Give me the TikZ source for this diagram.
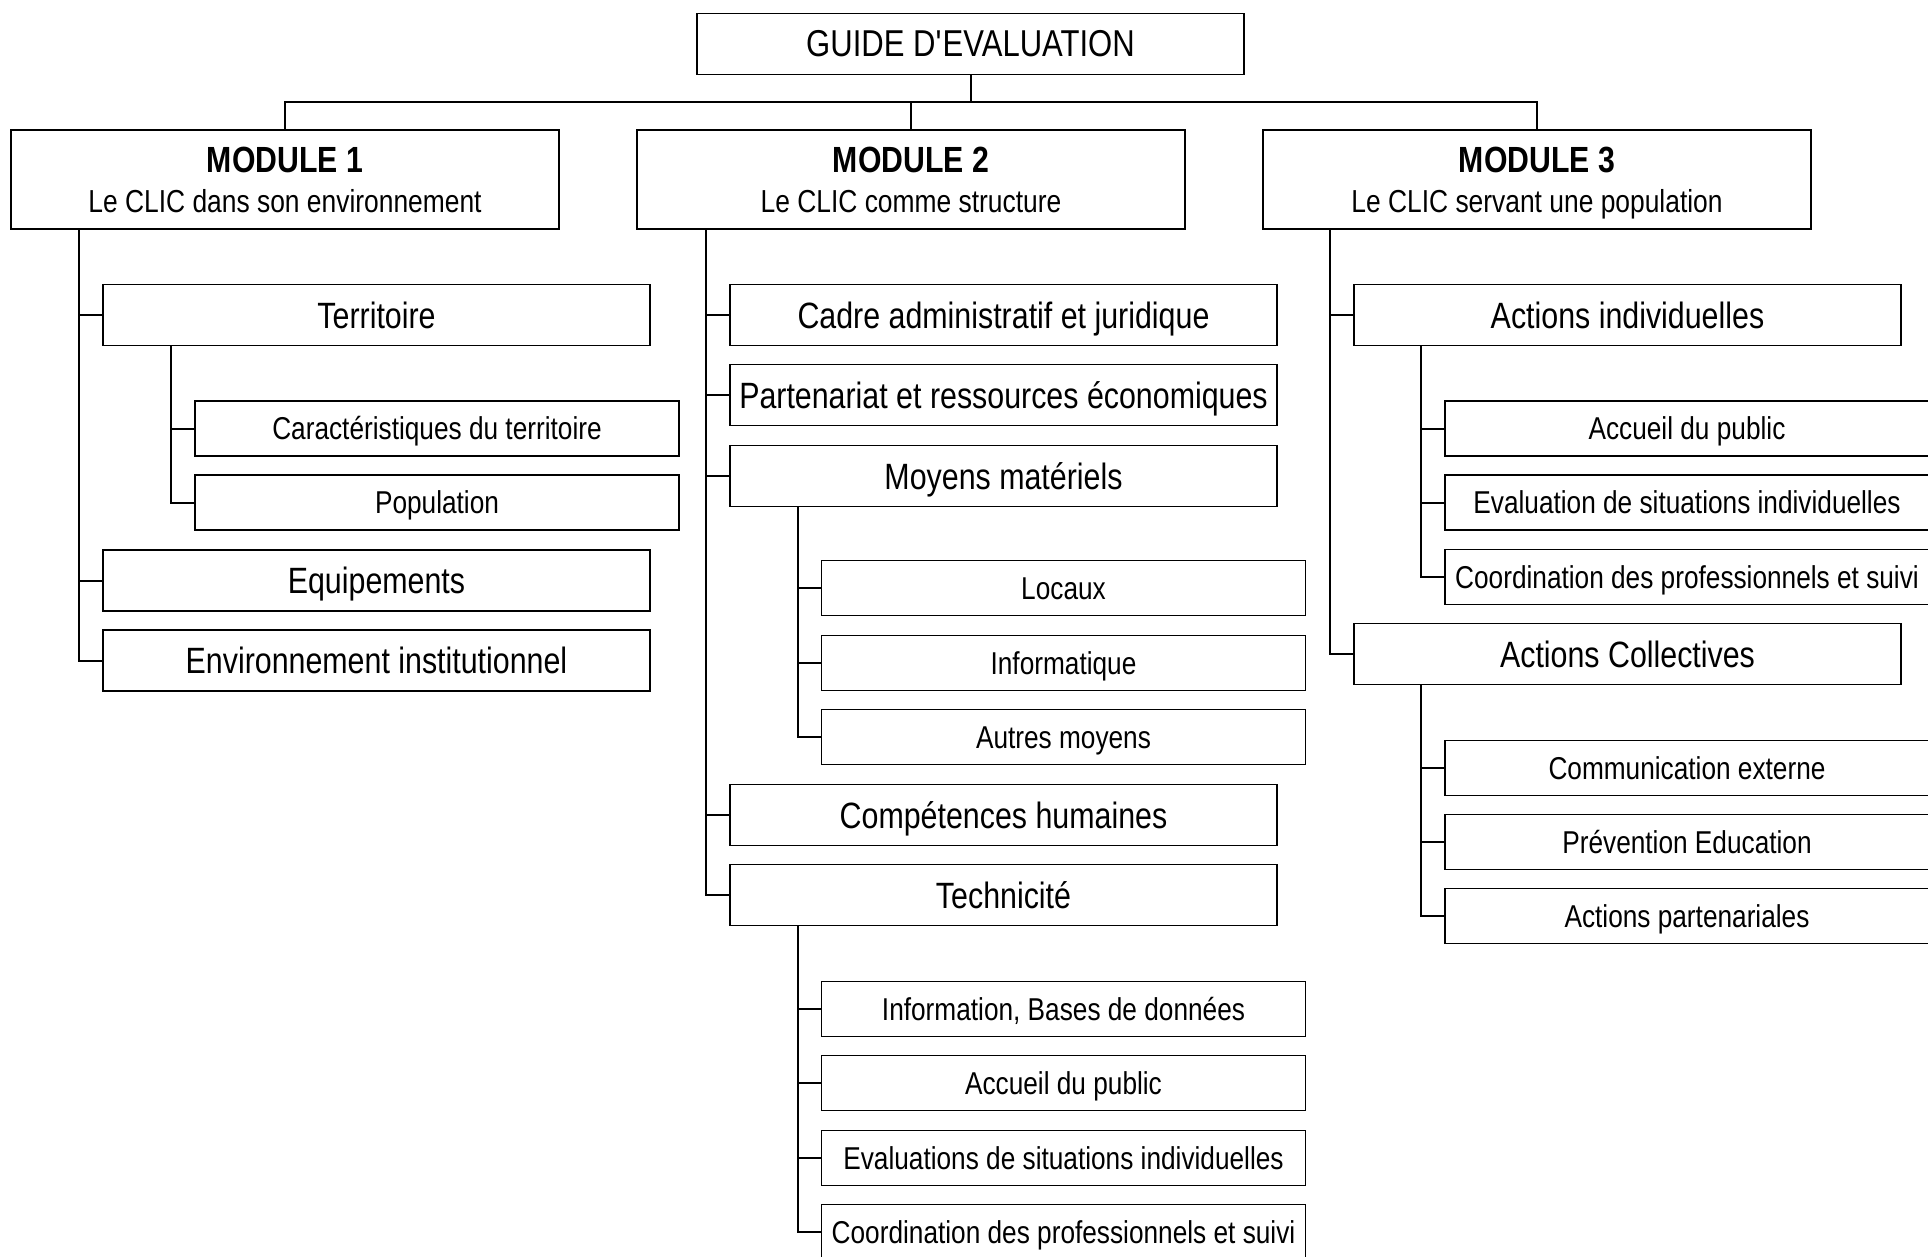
\documentclass[tikz,border=0pt]{standalone}
\usepackage{fontspec}
\setmainfont[FakeStretch=0.83]{Liberation Sans}
\usepackage{tikz}

\newcommand{\modtext}[2]{\rule{0pt}{13pt}\smash{\textbf{\fontsize{18.2}{19.7}\selectfont #1}}\\\rule{0pt}{13.8pt}\smash{#2}}

\begin{document}
\begin{tikzpicture}[x=0.5pt, y=-0.5pt,
  box/.style={draw, line width=0.7pt, inner sep=0pt, align=center},
  title/.style={box, minimum width=273.5pt, minimum height=30.5pt, font=\fontsize{18.7}{21}\selectfont},
  module/.style={box, minimum width=274pt, minimum height=49.5pt, font=\fontsize{15.9}{19.7}\selectfont},
  lvone/.style={box, minimum width=273.5pt, minimum height=30.5pt, text height=16pt, text depth=2.9pt, font=\fontsize{18.3}{20}\selectfont},
  lvtwo/.style={box, minimum width=242pt, minimum height=27.5pt, text height=14pt, text depth=2.7pt, font=\fontsize{15.8}{18}\selectfont},
  link/.style={line width=1pt}]
  \useasboundingbox (0,0) rectangle (1928,1257);

  % Top of the tree
  \node[title] (guide) at (970.5,44) {GUIDE D\textquotesingle EVALUATION};
  \node[module] (m1) at (285,179.5) {\modtext{MODULE 1}{Le CLIC dans son environnement}};
  \node[module] (m2) at (911,179.5) {\modtext{MODULE 2}{Le CLIC comme structure}};
  \node[module] (m3) at (1537,179.5) {\modtext{MODULE 3}{Le CLIC servant une population}};
  \coordinate (bus) at (970.5,102);
  \draw[link] (guide.south) -- (bus);
  \draw[link] (m1.north) |- (bus) -| (m3.north);
  \draw[link] (m2.north) -- (m2.north |- bus);

  % Module 1
  \coordinate (t1) at (79,0);
  \coordinate (s1) at (171,0);
  \node[lvone] (terr) at (376.5,315) {Territoire};
  \node[lvtwo] (carac) at (437,428.5) {Caractéristiques du territoire};
  \node[lvtwo] (popu) at (437,502.5) {Population};
  \node[lvone] (equip) at (376.5,580.5) {Equipements};
  \node[lvone] (envir) at (376.5,660.5) {Environnement institutionnel};
  \foreach \n in {terr,equip,envir}
    \draw[link] (m1.south -| t1) |- (\n.west);
  \foreach \n in {carac,popu}
    \draw[link] (terr.south -| s1) |- (\n.west);

  % Module 2
  \coordinate (t2) at (706,0);
  \coordinate (s2) at (798,0);
  \node[lvone] (cadre) at (1003.5,315) {Cadre administratif et juridique};
  \node[lvone] (parte) at (1003.5,395) {Partenariat et ressources économiques};
  \node[lvone] (moyen) at (1003.5,476) {Moyens matériels};
  \node[lvtwo] (locx) at (1063.5,588) {Locaux};
  \node[lvtwo] (info) at (1063.5,663) {Informatique};
  \node[lvtwo] (autre) at (1063.5,737) {Autres moyens};
  \node[lvone] (compe) at (1003.5,815) {Compétences humaines};
  \node[lvone] (techn) at (1003.5,895) {Technicité};
  \node[lvtwo] (bases) at (1063.5,1009) {Information, Bases de données};
  \node[lvtwo] (accA) at (1063.5,1083) {Accueil du public};
  \node[lvtwo] (evalA) at (1063.5,1158) {Evaluations de situations individuelles};
  \node[lvtwo] (coorA) at (1063.5,1232) {Coordination des professionnels et suivi};
  \foreach \n in {cadre,parte,moyen,compe,techn}
    \draw[link] (m2.south -| t2) |- (\n.west);
  \foreach \n in {locx,info,autre}
    \draw[link] (moyen.south -| s2) |- (\n.west);
  \foreach \n in {bases,accA,evalA,coorA}
    \draw[link] (techn.south -| s2) |- (\n.west);

  % Module 3
  \coordinate (t3) at (1330,0);
  \coordinate (s3) at (1421,0);
  \node[lvone] (indiv) at (1627.5,315) {Actions individuelles};
  \node[lvtwo] (accB) at (1687,428.5) {Accueil du public};
  \node[lvtwo] (evalB) at (1687,502.5) {Evaluation de situations individuelles};
  \node[lvtwo] (coorB) at (1687,577) {Coordination des professionnels et suivi};
  \node[lvone] (colle) at (1627.5,654) {Actions Collectives};
  \node[lvtwo] (commu) at (1687,768) {Communication externe};
  \node[lvtwo] (preve) at (1687,842) {Prévention Education};
  \node[lvtwo] (parta) at (1687,916) {Actions partenariales};
  \foreach \n in {indiv,colle}
    \draw[link] (m3.south -| t3) |- (\n.west);
  \foreach \n in {accB,evalB,coorB}
    \draw[link] (indiv.south -| s3) |- (\n.west);
  \foreach \n in {commu,preve,parta}
    \draw[link] (colle.south -| s3) |- (\n.west);
\end{tikzpicture}
\end{document}
